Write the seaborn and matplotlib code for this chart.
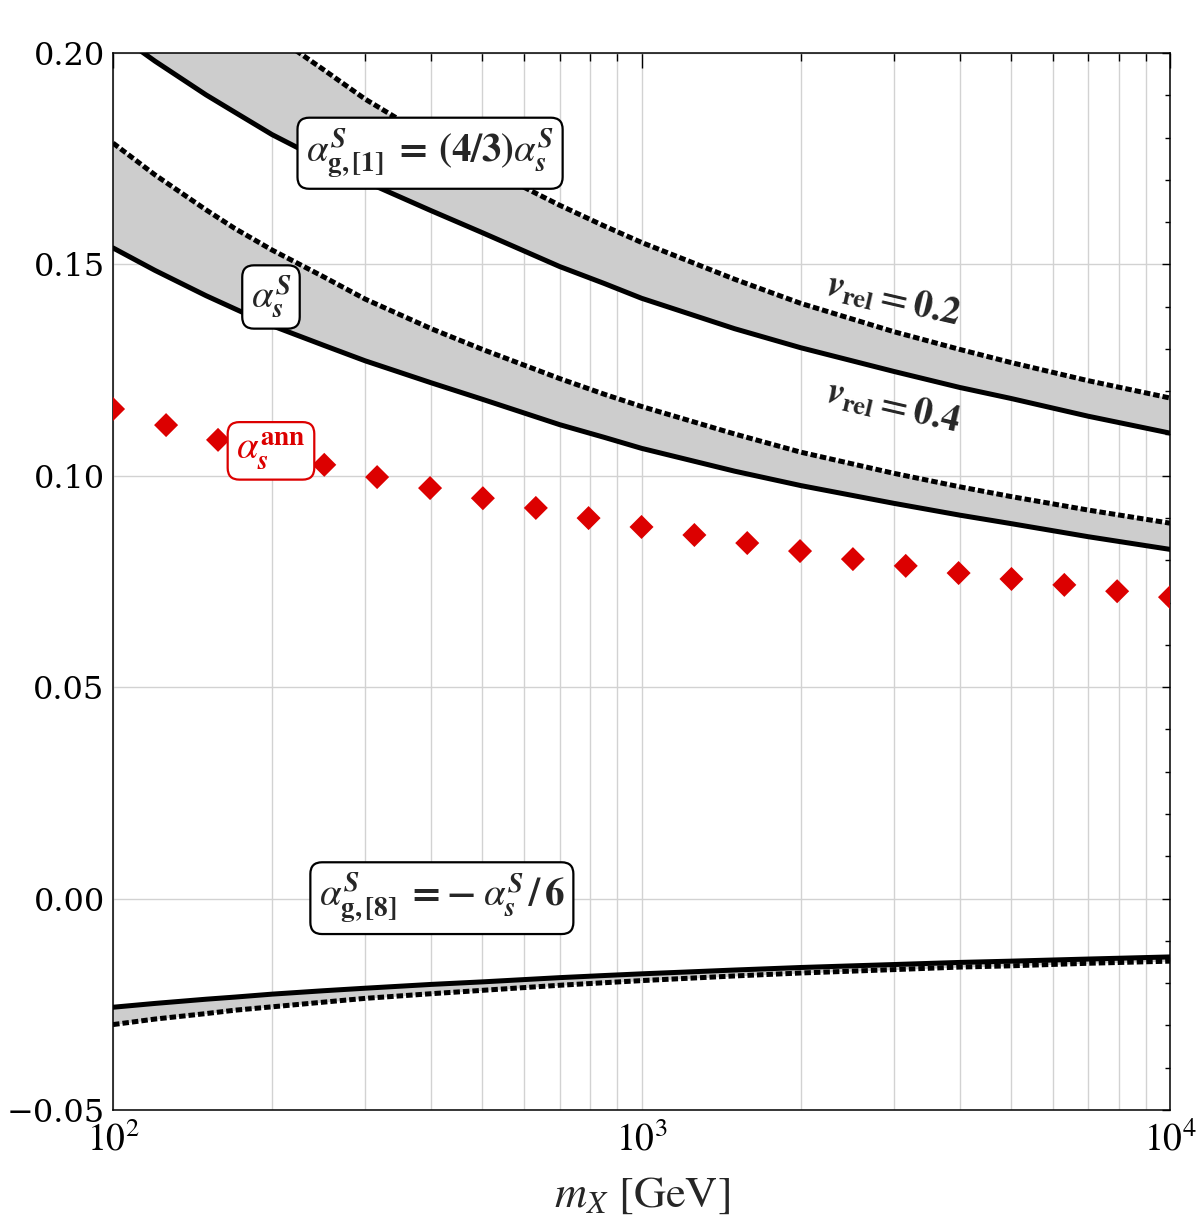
import numpy as np
import pandas as pd
import seaborn as sns
import matplotlib
matplotlib.use("Agg")
import matplotlib.pyplot as plt
from matplotlib.ticker import FixedLocator, FixedFormatter, MultipleLocator, LogLocator, NullFormatter

# ---- values ----
m_grid = [100, 120, 150, 170, 200, 250, 300, 400, 500, 700, 850, 1000, 1500, 2000, 3000, 4000,
          5000, 7000, 10000]
# alpha_s^S for v_rel = 0.4 (solid) and 0.2 (dashed)
as_v04 = [0.1539, 0.1486, 0.1426, 0.1395, 0.1355, 0.1309, 0.1272, 0.1220, 0.1181, 0.1121, 0.1091,
          0.1065, 0.1011, 0.0977, 0.0935, 0.0907, 0.0887, 0.0856, 0.0826]
as_v02 = [0.1787, 0.1712, 0.1629, 0.1585, 0.1534, 0.1471, 0.1418, 0.1348, 0.1299, 0.1230, 0.1193,
          0.1164, 0.1099, 0.1056, 0.1006, 0.0974, 0.0951, 0.0919, 0.0888]
# alpha_g,[1]^S
g1_v04 = [0.2052, 0.1981, 0.1901, 0.1860, 0.1807, 0.1745, 0.1696, 0.1627, 0.1575, 0.1495, 0.1455,
          0.1420, 0.1348, 0.1303, 0.1247, 0.1209, 0.1183, 0.1141, 0.1101]
g1_v02 = [0.2383, 0.2283, 0.2172, 0.2113, 0.2045, 0.1961, 0.1891, 0.1797, 0.1732, 0.1640, 0.1591,
          0.1552, 0.1465, 0.1408, 0.1341, 0.1299, 0.1268, 0.1225, 0.1184]
# alpha_g,[8]^S
g8_v04 = [-0.0257, -0.0248, -0.0238, -0.0233, -0.0226, -0.0218, -0.0212, -0.0203, -0.0197, -0.0187,
          -0.0182, -0.0178, -0.0169, -0.0163, -0.0156, -0.0151, -0.0148, -0.0143, -0.0138]
g8_v02 = [-0.0298, -0.0285, -0.0272, -0.0264, -0.0256, -0.0245, -0.0236, -0.0225, -0.0217, -0.0205,
          -0.0199, -0.0194, -0.0183, -0.0176, -0.0168, -0.0162, -0.0159, -0.0153, -0.0148]

# alpha_s^ann (red diamonds)
m_ann = [100, 126, 158, 200, 251, 316, 398, 501, 631, 794, 1000, 1259, 1585, 1995, 2512,
         3162, 3981, 5012, 6310, 7943, 10000]
a_ann = [0.1158, 0.1120, 0.1085, 0.1054, 0.1026, 0.0997, 0.0971, 0.0947, 0.0924, 0.0900, 0.0879,
         0.0860, 0.0841, 0.0822, 0.0803, 0.0787, 0.0770, 0.0756, 0.0742, 0.0727, 0.0713]

y_ticks = [-0.05, 0.00, 0.05, 0.10, 0.15, 0.20]
y_ticklabels = ["\u22120.05", "0.00", "0.05", "0.10", "0.15", "0.20"]
x_ticks = [100, 1000, 10000]
x_ticklabels = [r"$10^{2}$", r"$10^{3}$", r"$10^{4}$"]

RED = "#dc0000"
GRAY = "#cdcdcd"

sns.set_theme(style="white")
plt.rcParams["font.family"] = ["DejaVu Serif"]
plt.rcParams["mathtext.fontset"] = "stix"

fig = plt.figure(figsize=(12, 12.25), dpi=100)
ax = fig.add_axes([0.0942, 0.0939, 0.8808, 0.8628])

df = pd.DataFrame({"m": m_grid, "as04": as_v04, "as02": as_v02,
                   "g104": g1_v04, "g102": g1_v02, "g804": g8_v04, "g802": g8_v02})

lw = 3.6
for lo, hi in [("as04", "as02"), ("g104", "g102"), ("g802", "g804")]:
    ax.fill_between(df["m"], df[lo], df[hi], color=GRAY, lw=0, zorder=1)

for col in ["as04", "g104", "g804"]:
    sns.lineplot(data=df, x="m", y=col, color="black", lw=lw, ax=ax, zorder=3,
                 solid_joinstyle="round")
for col in ["as02", "g102", "g802"]:
    sns.lineplot(data=df, x="m", y=col, color="black", lw=lw, ax=ax, zorder=3)
    ax.lines[-1].set_dashes([1.3, 0.6])

sns.scatterplot(x=m_ann, y=a_ann, marker="D", s=150, color=RED, edgecolor="none",
                ax=ax, zorder=4)

ax.set_xscale("log")
ax.set_xlim(100, 10000)
ax.set_ylim(-0.05, 0.20)

ax.xaxis.set_major_locator(FixedLocator(x_ticks))
ax.xaxis.set_major_formatter(FixedFormatter(x_ticklabels))
ax.xaxis.set_minor_locator(LogLocator(base=10, subs=np.arange(2, 10)))
ax.xaxis.set_minor_formatter(NullFormatter())
ax.yaxis.set_major_locator(FixedLocator(y_ticks))
ax.yaxis.set_major_formatter(FixedFormatter(y_ticklabels))
ax.yaxis.set_minor_locator(MultipleLocator(0.01))

ax.grid(True, which="major", axis="y", color="#d2d2d2", lw=1.0, zorder=0)
ax.grid(True, which="both", axis="x", color="#d2d2d2", lw=1.0, zorder=0)
ax.set_axisbelow(True)

ax.tick_params(axis="both", which="both", direction="in", top=True, right=True,
               colors="black", width=1.0)
ax.tick_params(axis="x", which="major", length=11, labelsize=27, pad=9)
ax.tick_params(axis="x", which="minor", length=6)
ax.tick_params(axis="y", which="major", length=6, labelsize=23, pad=6)
ax.tick_params(axis="y", which="minor", length=3.5)
for s in ax.spines.values():
    s.set_color("black")
    s.set_linewidth(1.1)

ax.set_xlabel(r"$m_X$ [GeV]", fontsize=32, family="STIXGeneral", labelpad=12)
ax.set_ylabel("")

box = dict(boxstyle="round,pad=0.22,rounding_size=0.3", fc="white", ec="black", lw=1.6)
ax.text(398, 0.1763, r"$\alpha^{\mathbfit{S}}_{\mathbf{g,[1]}}\;\mathbf{=\,(4/3)}\alpha^{\mathbfit{S}}_{\mathbfit{s}}$",
        fontsize=28, ha="center", va="center", bbox=box, zorder=6)
ax.text(199, 0.1423, r"$\alpha^{\mathbfit{S}}_{\mathbfit{s}}$",
        fontsize=28, ha="center", va="center", bbox=box, zorder=6)
ax.text(199, 0.1059, r"$\alpha^{\mathbf{ann}}_{\mathbfit{s}}$", color=RED,
        fontsize=28, ha="center", va="center", zorder=6,
        bbox=dict(boxstyle="round,pad=0.22,rounding_size=0.3", fc="white", ec=RED, lw=1.6))
ax.text(419, 0.0001, r"$\alpha^{\mathbfit{S}}_{\mathbf{g,[8]}}\;\mathbf{=-}\;\alpha^{\mathbfit{S}}_{\mathbfit{s}}\,\mathbf{/\,6}$",
        fontsize=28, ha="center", va="center", bbox=box, zorder=6)

ax.text(2990, 0.1416, r"$\mathbfit{v}_{\mathbf{rel}}\mathbf{=0.2}$",
        fontsize=27, ha="center", va="center", rotation=-13, zorder=6)
ax.text(2990, 0.1163, r"$\mathbfit{v}_{\mathbf{rel}}\mathbf{=0.4}$",
        fontsize=27, ha="center", va="center", rotation=-13, zorder=6)

fig.savefig("out.png", dpi=100)
